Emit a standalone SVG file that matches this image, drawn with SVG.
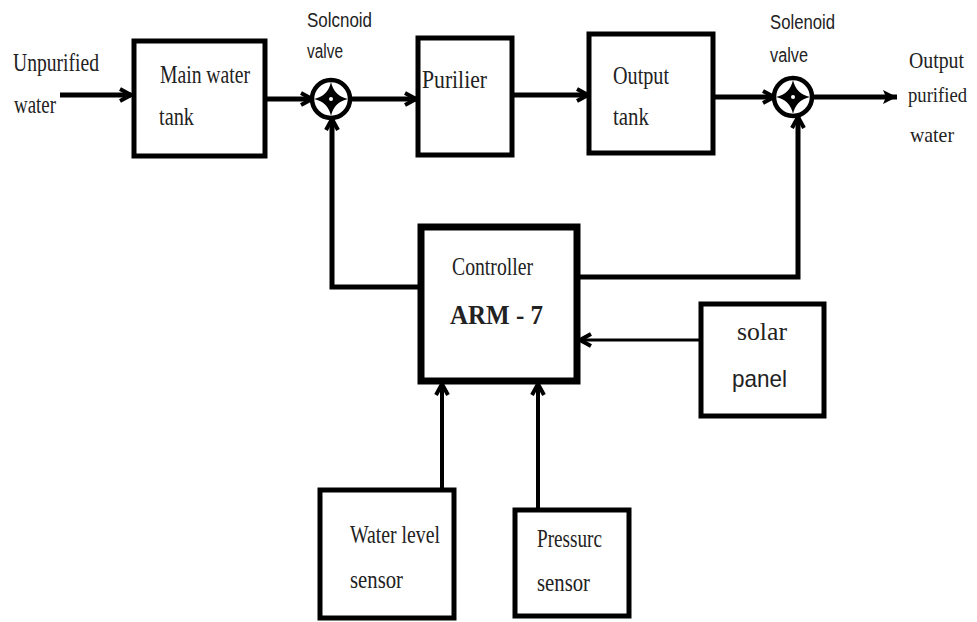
<svg xmlns="http://www.w3.org/2000/svg" width="977" height="622" viewBox="0 0 977 622">
<style>
.box{fill:#fff;stroke:#000;stroke-width:5}
.ser{font-family:"Liberation Serif","Times New Roman",serif;fill:#222}
.san{font-family:"Liberation Sans",Arial,sans-serif;fill:#222}
.ln{fill:none;stroke:#000;stroke-width:5}
.valve{fill:#fff;stroke:#000;stroke-width:4.5}
</style>
<defs>
<marker id="chev" markerUnits="userSpaceOnUse" viewBox="0 0 16 16" refX="14" refY="8" markerWidth="16" markerHeight="16" orient="auto">
<path d="M3,2 L14,8 L3,14" fill="none" stroke="#000" stroke-width="4"/>
</marker>
<marker id="tri" markerUnits="userSpaceOnUse" viewBox="0 0 16 16" refX="15" refY="8" markerWidth="16" markerHeight="16" orient="auto">
<path d="M1,1 L15,8 L1,15 L4,8 Z" fill="#000"/>
</marker>
</defs>
<rect width="977" height="622" fill="#fff"/>

<g id="connectors">
<line class="ln" x1="60" y1="95" x2="131" y2="95" marker-end="url(#chev)"/>
<line class="ln" x1="265" y1="99" x2="312" y2="99" marker-end="url(#chev)"/>
<line class="ln" x1="350" y1="99" x2="416" y2="99" marker-end="url(#chev)"/>
<line class="ln" x1="512" y1="95" x2="588" y2="95" marker-end="url(#chev)"/>
<line class="ln" x1="714" y1="97" x2="774" y2="97" marker-end="url(#chev)"/>
<line class="ln" x1="812" y1="97" x2="897" y2="97" marker-end="url(#tri)"/>
<polyline class="ln" points="420,287 332,287 332,119" marker-end="url(#chev)"/>
<polyline class="ln" points="578,277 798,277 798,117" marker-end="url(#chev)"/>
<line class="ln" style="stroke-width:3" x1="700" y1="340" x2="580" y2="340" marker-end="url(#chev)"/>
<line class="ln" style="stroke-width:4" x1="442" y1="488" x2="442" y2="384" marker-end="url(#chev)"/>
<line class="ln" style="stroke-width:4" x1="538" y1="508" x2="538" y2="384" marker-end="url(#chev)"/>
</g>

<g id="unpurified-label">
<text class="ser" x="13" y="71" font-size="25" textLength="86" lengthAdjust="spacingAndGlyphs">Unpurified</text>
<text class="ser" x="14" y="113" font-size="25" textLength="42" lengthAdjust="spacingAndGlyphs">water</text>
</g>

<g id="main-tank">
<rect class="box" x="134" y="41" width="131" height="115"/>
<text class="ser" x="160" y="83" font-size="25" textLength="90" lengthAdjust="spacingAndGlyphs">Main water</text>
<text class="ser" x="159" y="125" font-size="25" textLength="35" lengthAdjust="spacingAndGlyphs">tank</text>
</g>

<g id="valve1">
<text class="san" x="307" y="27" font-size="20" textLength="65" lengthAdjust="spacingAndGlyphs">Solcnoid</text>
<text class="san" x="307" y="58" font-size="20" textLength="36" lengthAdjust="spacingAndGlyphs">valve</text>
<circle class="valve" cx="331" cy="99" r="19"/>
<path d="M331,82 Q334,96 348,99 Q334,102 331,116 Q328,102 314,99 Q328,96 331,82 Z" fill="#000"/>
<circle cx="331" cy="99" r="2" fill="#fff"/>
</g>

<g id="purifier">
<rect class="box" x="418" y="38" width="94" height="117"/>
<text class="ser" x="422" y="88" font-size="25" textLength="65" lengthAdjust="spacingAndGlyphs">Purilier</text>
</g>

<g id="output-tank">
<rect class="box" x="589" y="34" width="124" height="119"/>
<text class="ser" x="613" y="84" font-size="25" textLength="56" lengthAdjust="spacingAndGlyphs">Output</text>
<text class="ser" x="613" y="125" font-size="25" textLength="36" lengthAdjust="spacingAndGlyphs">tank</text>
</g>

<g id="valve2">
<text class="san" x="770" y="29" font-size="20" textLength="65" lengthAdjust="spacingAndGlyphs">Solenoid</text>
<text class="san" x="770" y="62" font-size="20" textLength="38" lengthAdjust="spacingAndGlyphs">valve</text>
<circle class="valve" cx="793" cy="97" r="19"/>
<path d="M793,80 Q796,94 810,97 Q796,100 793,114 Q790,100 776,97 Q790,94 793,80 Z" fill="#000"/>
<circle cx="793" cy="97" r="2" fill="#fff"/>
</g>

<g id="output-label">
<text class="ser" x="909" y="68" font-size="24" textLength="55" lengthAdjust="spacingAndGlyphs">Output</text>
<text class="ser" x="908" y="102" font-size="21" textLength="59" lengthAdjust="spacingAndGlyphs">purified</text>
<text class="ser" x="910" y="142" font-size="22" textLength="44" lengthAdjust="spacingAndGlyphs">water</text>
</g>

<g id="controller">
<rect class="box" style="stroke-width:7" x="421" y="227" width="156" height="154"/>
<text class="ser" x="452" y="275" font-size="25" textLength="81" lengthAdjust="spacingAndGlyphs">Controller</text>
<text class="ser" x="450" y="324" font-size="28" font-weight="bold" textLength="93" lengthAdjust="spacingAndGlyphs">ARM - 7</text>
</g>

<g id="solar-panel">
<rect class="box" x="701" y="304" width="123" height="112"/>
<text class="ser" x="737" y="340" font-size="26" textLength="50" lengthAdjust="spacingAndGlyphs">solar</text>
<text class="san" x="732" y="387" font-size="24" textLength="55" lengthAdjust="spacingAndGlyphs">panel</text>
</g>

<g id="water-level-sensor">
<rect class="box" x="320" y="490" width="134" height="128"/>
<text class="ser" x="350" y="543" font-size="25" textLength="90" lengthAdjust="spacingAndGlyphs">Water level</text>
<text class="ser" x="350" y="588" font-size="25" textLength="53" lengthAdjust="spacingAndGlyphs">sensor</text>
</g>

<g id="pressure-sensor">
<rect class="box" x="515" y="510" width="114" height="106"/>
<text class="ser" x="537" y="547" font-size="25" textLength="65" lengthAdjust="spacingAndGlyphs">Pressurc</text>
<text class="ser" x="537" y="591" font-size="25" textLength="53" lengthAdjust="spacingAndGlyphs">sensor</text>
</g>
</svg>
